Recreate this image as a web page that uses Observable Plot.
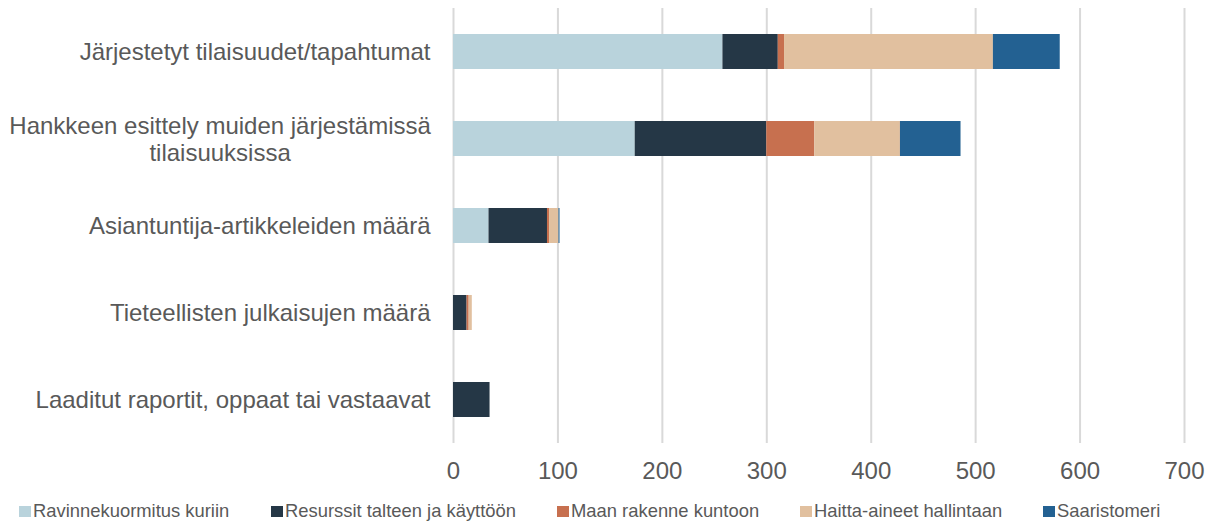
<!DOCTYPE html>
<html><head><meta charset="utf-8">
<script src="https://cdn.jsdelivr.net/npm/d3@7"></script>
<script src="https://cdn.jsdelivr.net/npm/@observablehq/plot@0.6"></script>
<style>
body{margin:0;background:#fff;font-family:"Liberation Sans",Arial,sans-serif;}
#chart{position:relative;width:1215px;height:525px;}
.legend{position:absolute;top:497px;left:0;width:1215px;height:28px;font-size:18.4px;color:#595959;}
.item{position:absolute;top:0;display:flex;align-items:center;height:28px;white-space:nowrap;}
.sw{width:12px;height:11px;margin-right:2px;}
</style></head><body><div id="chart"></div>
<script>
const categories = [
  "Järjestetyt tilaisuudet/tapahtumat",
  "Hankkeen esittely muiden järjestämissä tilaisuuksissa",
  "Asiantuntija-artikkeleiden määrä",
  "Tieteellisten julkaisujen määrä",
  "Laaditut raportit, oppaat tai vastaavat"
];
const yTickLabels = [
  "Järjestetyt tilaisuudet/tapahtumat",
  "Hankkeen esittely muiden järjestämissä\ntilaisuuksissa",
  "Asiantuntija-artikkeleiden määrä",
  "Tieteellisten julkaisujen määrä",
  "Laaditut raportit, oppaat tai vastaavat"
];
const series = ["Ravinnekuormitus kuriin", "Resurssit talteen ja käyttöön", "Maan rakenne kuntoon", "Haitta-aineet hallintaan", "Saaristomeri"];
const colors = ["#b9d3dc", "#253746", "#c7704f", "#e1c09f", "#236192"];
const ravinnekuormitus = [258, 174, 34, 0, 0];
const resurssit = [53, 126, 56, 13, 35];
const maanRakenne = [6, 46, 2, 2, 0];
const haittaAineet = [200, 82, 9, 3, 0];
const saaristomeri = [64, 58, 1, 0, 0];
const xTicks = [0, 100, 200, 300, 400, 500, 600, 700];

const seriesValues = [ravinnekuormitus, resurssit, maanRakenne, haittaAineet, saaristomeri];
const data = categories.flatMap((c, i) => series.map((s, j) => ({category: c, series: s, value: seriesValues[j][i]})));

const plot = Plot.plot({
  width: 1215, height: 495,
  marginLeft: 453, marginRight: 31, marginTop: 8, marginBottom: 52,
  style: {fontFamily: "Liberation Sans, Arial, sans-serif", color: "#595959", background: "#fff"},
  x: {domain: [0, 700]},
  y: {domain: categories, paddingInner: 0.6, paddingOuter: 0.3},
  color: {domain: series, range: colors},
  marks: [
    Plot.gridX({ticks: xTicks, stroke: "#d9d9d9", strokeOpacity: 1, strokeWidth: 2}),
    Plot.barX(data, {x: "value", y: "category", fill: "series"}),
    Plot.axisX({ticks: xTicks, tickSize: 0, tickPadding: 18, fontSize: 24, label: null}),
    Plot.axisY({tickSize: 0, tickPadding: 23, fontSize: 24, lineHeight: 1.1, label: null,
      tickFormat: d => yTickLabels[categories.indexOf(d)]})
  ]
});
const chart = document.getElementById("chart");
chart.appendChild(plot);

// center multi-line tick labels within their block
plot.querySelectorAll('g[aria-label="y-axis tick label"] text').forEach(t => {
  const spans = t.querySelectorAll("tspan");
  if (spans.length > 1) {
    const bb = t.getBBox();
    t.setAttribute("text-anchor", "middle");
    spans.forEach(s => s.setAttribute("x", bb.x + bb.width / 2));
  }
});

const legend = document.createElement("div");
legend.className = "legend";
const lefts = [19, 271, 557, 800, 1043];
series.forEach((s, i) => {
  const it = document.createElement("div");
  it.className = "item";
  it.style.left = lefts[i] + "px";
  const sw = document.createElement("span");
  sw.className = "sw";
  sw.style.background = colors[i];
  const tx = document.createElement("span");
  tx.textContent = s;
  it.appendChild(sw); it.appendChild(tx);
  legend.appendChild(it);
});
chart.appendChild(legend);
</script></body></html>
